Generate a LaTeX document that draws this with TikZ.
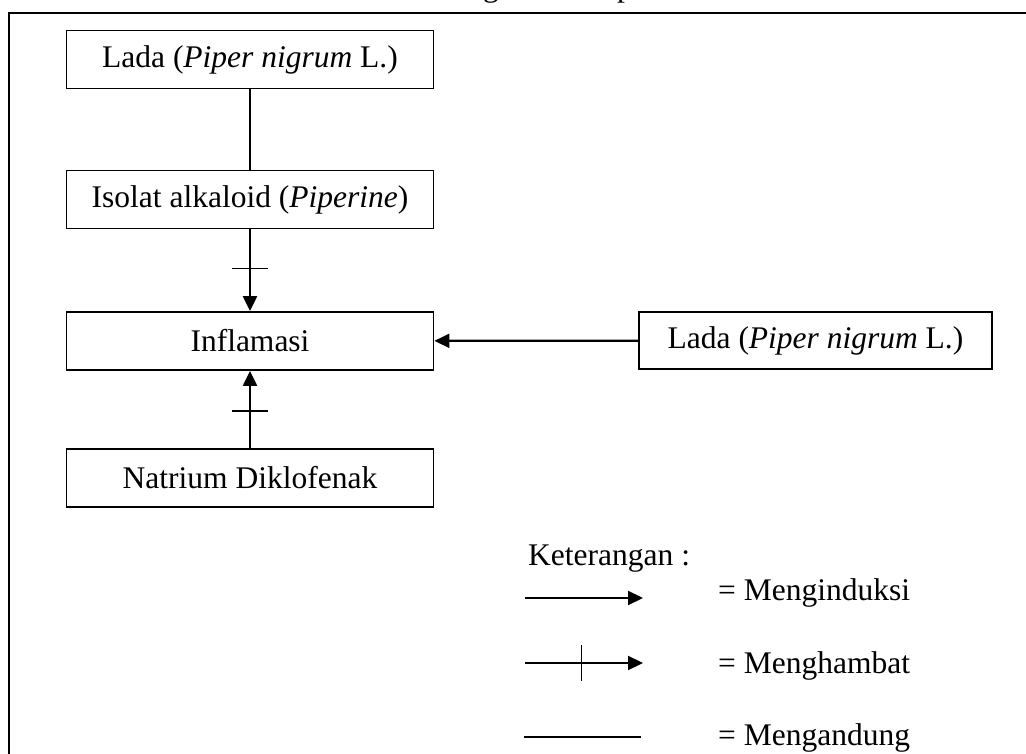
\documentclass[tikz,border=0pt]{standalone}
\usepackage{fontspec}
\setmainfont{Liberation Serif}
\usetikzlibrary{arrows.meta, decorations.markings}

\tikzset{
  box/.style={draw, line width=1.8pt, minimum height=58pt, inner sep=0pt,
    font=\fontsize{31.5}{37}\selectfont},
  txt/.style={anchor=base west, inner sep=0pt, font=\fontsize{31.5}{37}\selectfont},
  induce/.style={line width=2.2pt, -{Triangle[length=15pt,width=14pt]}},
  contain/.style={line width=1.8pt},
  inhibit/.style={induce, postaction={decorate},
    decoration={markings, mark=at position 0.48 with {\draw[-, line width=1.5pt] (0,-18pt) -- (0,18pt);}}}
}

\begin{document}
\begin{tikzpicture}[x=1pt, y=-1pt]
	\useasboundingbox (0,0) rectangle (1026,754);
	\clip (0,0) rectangle (1026,754);

	% title, cut off at the top
	\node [txt] (judul) at (406,-3) {Kerangka Konsep};
	% frame
	\draw [line width=2pt] (8.5,760) -- (8.5,12.7) -- (1030,12.7);

	\node [box, minimum width=367pt] (lada) at (250,59.5) {Lada (\textit{Piper nigrum} L.)};
	\node [box, minimum width=367pt] (isolat) at (250,199.5) {Isolat alkaloid (\textit{Piperine})};
	\node [box, minimum width=367pt] (inflamasi) at (250,341) {Inflamasi};
	\node [box, minimum width=367pt] (natrium) at (250,478) {Natrium Diklofenak};
	\node [box, minimum width=353pt, minimum height=57pt] (ladaB) at (815.5,340.5) {Lada (\textit{Piper nigrum} L.)};

	\draw [contain] (lada) -- (isolat);
	\draw [inhibit] (isolat) -- (inflamasi);
	\draw [inhibit] (natrium) -- (inflamasi);
	\draw [induce] (ladaB) -- (inflamasi);

	% keterangan
	\node [txt] (ket) at (528,565) {Keterangan :};
	\coordinate (a1) at (525,598);
	\coordinate (b1) at (643,598);
	\coordinate (a2) at (525,663);
	\coordinate (b2) at (643,663);
	\coordinate (a3) at (524,737);
	\coordinate (b3) at (641,737);
	\draw [induce] (a1) -- (b1);
	\draw [inhibit] (a2) -- (b2);
	\draw [contain] (a3) -- (b3);
	\node [txt] (induksi) at (718,600) {= Menginduksi};
	\node [txt] (hambat) at (718,673) {= Menghambat};
	\node [txt] (kandung) at (718,745) {= Mengandung};
\end{tikzpicture}
\end{document}
